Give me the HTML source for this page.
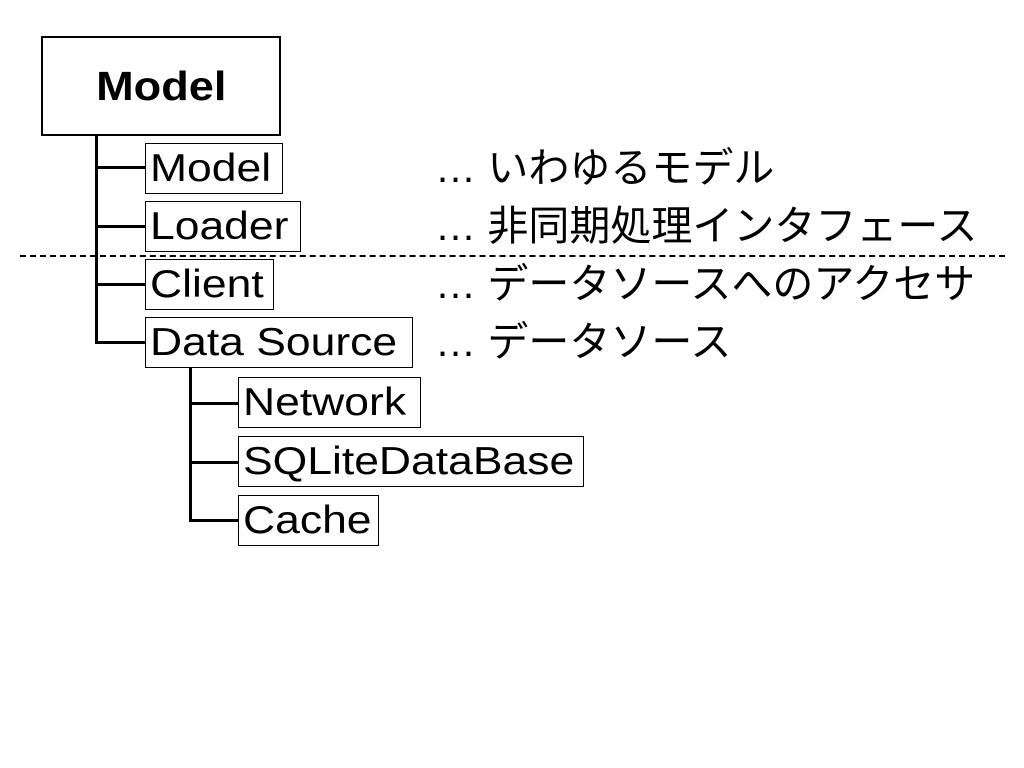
<!DOCTYPE html>
<html><head><meta charset="utf-8"><style>
body{margin:0;width:1024px;height:768px;background:#fff;position:relative;overflow:hidden;font-family:"Liberation Sans","Noto Sans CJK JP",sans-serif;}
.a{position:absolute;}
.box{position:absolute;border:1px solid #000;box-sizing:border-box;font-size:39px;line-height:49px;padding-left:4px;color:#000;white-space:nowrap;}
.box span{display:inline-block;transform:scaleX(1.14);transform-origin:left center;}
.t{position:absolute;font-size:41px;line-height:51px;white-space:nowrap;left:435px;}
.h{position:absolute;height:3px;background:#000;}
.v{position:absolute;width:3px;background:#000;}
</style></head><body>
<div class="a" style="left:41px;top:36px;width:240px;height:100px;border:2px solid #000;box-sizing:border-box;font-weight:bold;font-size:41px;text-align:center;line-height:96px;"><span style="display:inline-block;transform:scaleX(1.1)">Model</span></div>
<div class="v" style="left:95px;top:136px;height:208px"></div>
<div class="h" style="left:95px;top:166px;width:50px"></div>
<div class="h" style="left:95px;top:225px;width:50px"></div>
<div class="h" style="left:95px;top:283px;width:50px"></div>
<div class="h" style="left:95px;top:341px;width:50px"></div>
<div class="box" style="left:145px;top:143px;width:138px;height:51px"><span>Model</span></div>
<div class="box" style="left:145px;top:201px;width:156px;height:51px"><span>Loader</span></div>
<div class="box" style="left:145px;top:259px;width:129px;height:51px"><span>Client</span></div>
<div class="box" style="left:145px;top:317px;width:268px;height:51px"><span>Data Source</span></div>
<div class="a" style="left:20px;top:255px;width:985px;border-top:2px dashed #000"></div>
<div class="v" style="left:189px;top:368px;height:154px"></div>
<div class="h" style="left:189px;top:402px;width:49px"></div>
<div class="h" style="left:189px;top:461px;width:49px"></div>
<div class="h" style="left:189px;top:519px;width:49px"></div>
<div class="box" style="left:238px;top:377px;width:183px;height:51px"><span>Network</span></div>
<div class="box" style="left:238px;top:436px;width:346px;height:51px"><span>SQLiteDataBase</span></div>
<div class="box" style="left:238px;top:495px;width:141px;height:51px"><span>Cache</span></div>
<div class="t" style="top:143px">… いわゆるモデル</div>
<div class="t" style="top:201px">… 非同期処理インタフェース</div>
<div class="t" style="top:259px">… データソースへのアクセサ</div>
<div class="t" style="top:317px">… データソース</div>
</body></html>
